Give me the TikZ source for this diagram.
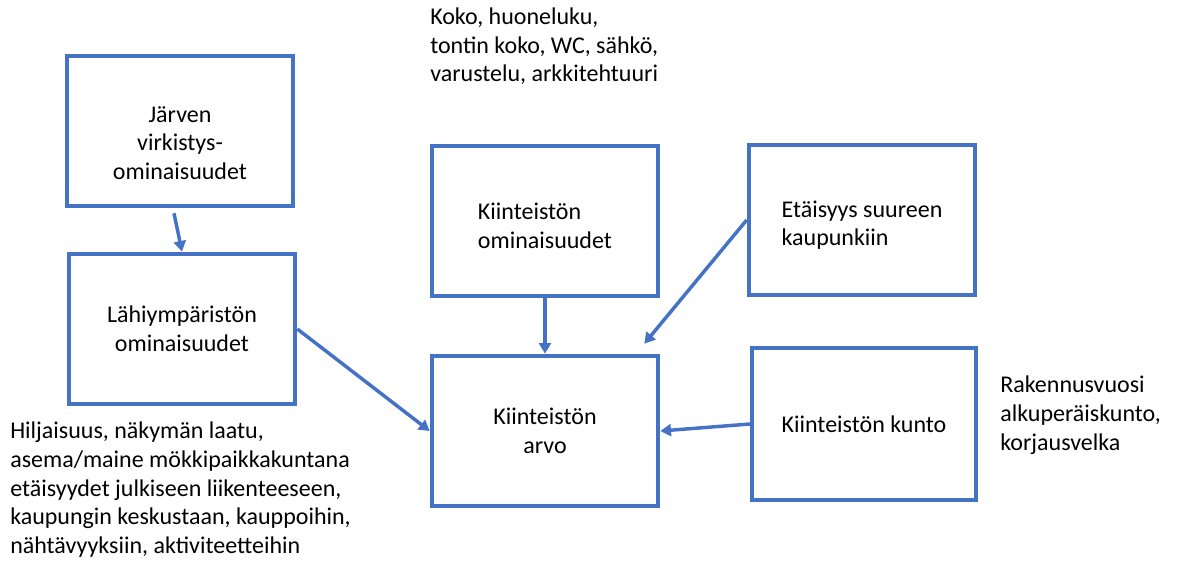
\documentclass[tikz,border=0pt]{standalone}
\usepackage{fontspec}
\setmainfont{Carlito}
\usetikzlibrary{arrows.meta}
\definecolor{officeBlue}{HTML}{4472C4}
\begin{document}
\begin{tikzpicture}[x=0.75pt,y=-0.75pt,
                      boxNode/.style={draw=officeBlue,line width=3pt,
                        minimum width=170pt,minimum height=113pt,inner sep=0pt},
                      noteNode/.style={anchor=north west,inner sep=0pt,align=left},
                      linkArrow/.style={officeBlue,line width=2.6pt,
                        -{Triangle[width=9pt,length=8pt]}},
                      font=\fontsize{18}{21.4}\selectfont]
    \useasboundingbox (0,0) rectangle (1182,567);
    % boxes
    \node [boxNode,align=center] (jarvi) at (180,131) {\rule{0pt}{30pt}Järven\\virkistys-\\ominaisuudet};
    \node [boxNode,align=center] (lahi) at (182,329) {Lähiympäristön\\ominaisuudet};
    \node [boxNode,align=left] (omin) at (545,221) {\rule{0pt}{20pt}Kiinteistön\\ominaisuudet};
    \node [boxNode,align=left] (etaisyys) at (862,220) {\rule{0pt}{20pt}Etäisyys suureen\\kaupunkiin};
    \node [boxNode,align=center] (arvo) at (545,431) {Kiinteistön\\arvo};
    \node [boxNode,minimum width=168pt,minimum height=114pt] (kunto) at (864,424) {Kiinteistön kunto};
    % notes
    \node [noteNode] (ominNote) at (430,8) {Koko, huoneluku,\\tontin koko, WC, sähkö,\\varustelu, arkkitehtuuri};
    \node [noteNode] (lahiNote) at (10,422) {Hiljaisuus, näkymän laatu,\\asema/maine mökkipaikkakuntana\\etäisyydet julkiseen liikenteeseen,\\kaupungin keskustaan, kauppoihin,\\nähtävyyksiin, aktiviteetteihin};
    \node [noteNode] (kuntoNote) at (1000,376) {Rakennusvuosi\\alkuperäiskunto,\\korjausvelka};
    % arrows
    \draw [linkArrow] ([shift={(-6,5)}]jarvi.south) -- (lahi.north);
    \draw [linkArrow] (lahi.east) -- (arvo.west);
    \draw [linkArrow] (omin.south) -- (arvo.north);
    \draw [linkArrow] (etaisyys.west) -- ([shift={(-16,-10)}]arvo.north east);
    \draw [linkArrow] (kunto.west) -- (arvo.east);
  \end{tikzpicture}
\end{document}
